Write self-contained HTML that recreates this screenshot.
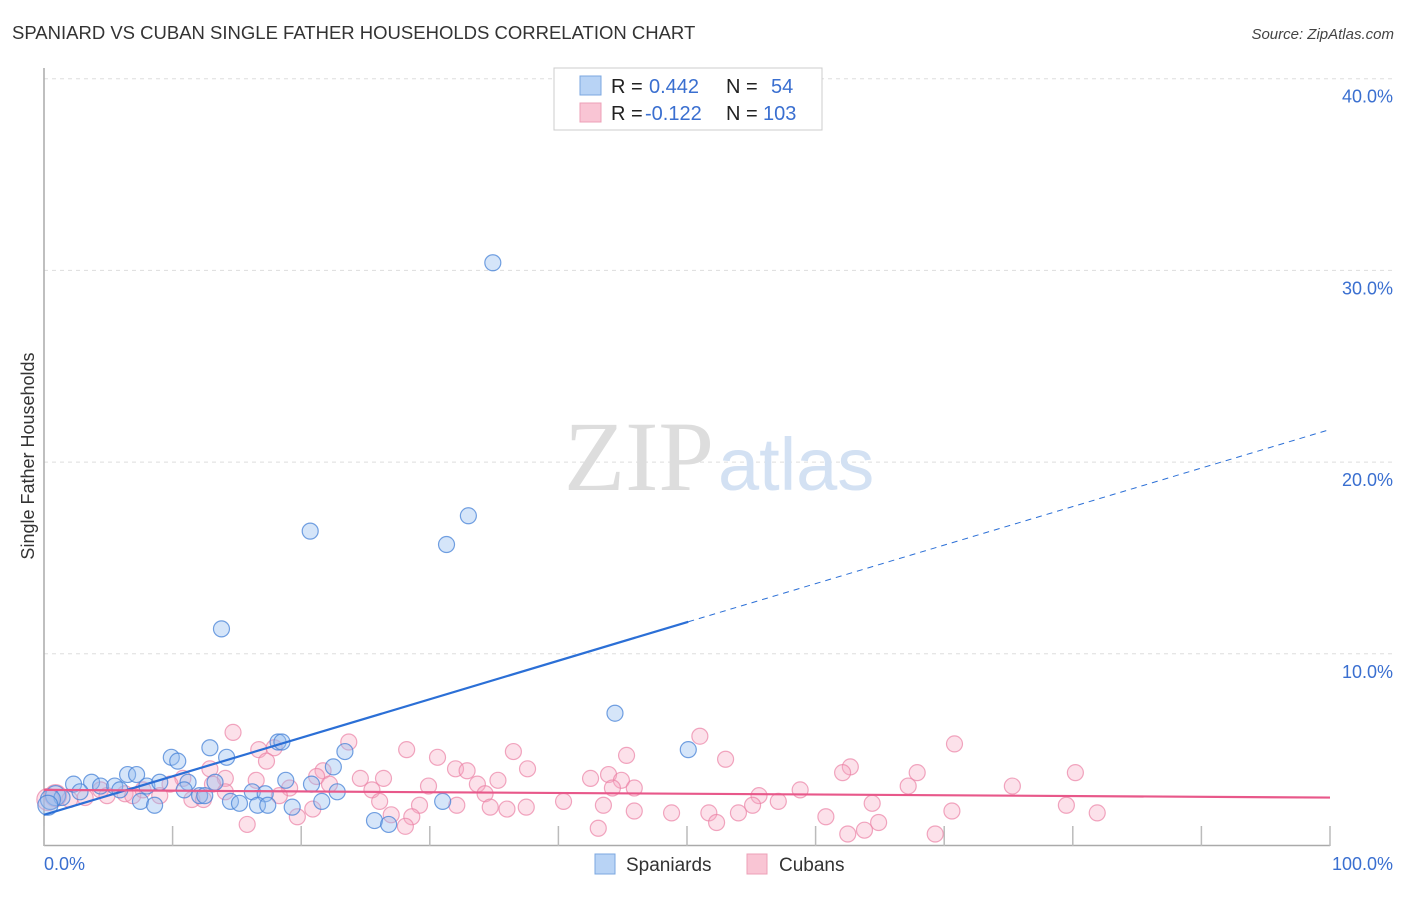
<!DOCTYPE html>
<html><head><meta charset="utf-8">
<style>
body{margin:0;background:#fff;font-family:"Liberation Sans",sans-serif;}
</style></head>
<body>
<svg id="chart" width="1406" height="892" viewBox="0 0 1406 892" style="font-family:'Liberation Sans',sans-serif">
<text x="12" y="39" font-size="18.5" fill="#333">SPANIARD VS CUBAN SINGLE FATHER HOUSEHOLDS CORRELATION CHART</text>
<text x="1394" y="39" font-size="15" fill="#444" font-style="italic" text-anchor="end">Source: ZipAtlas.com</text>
<g id="grid"></g>
<text x="714" y="490" font-size="100" fill="#ddd" text-anchor="end" style="font-family:'Liberation Serif',serif">ZIP</text>
<text x="718" y="490" font-size="74" fill="#d3e1f3">atlas</text>
<text transform="translate(34,456) rotate(-90)" font-size="18" fill="#333" text-anchor="middle">Single Father Households</text>
<g id="ylabels"></g>
<g id="xaxis"></g>
<g id="pts"></g>
<g id="lines"></g>
<g>
<rect x="554" y="68" width="268" height="62" fill="#fff" stroke="#ccc"/>
<rect x="580" y="76" width="21" height="19" fill="#b8d3f5" stroke="#7ba7e0"/>
<rect x="580" y="103" width="21" height="19" fill="#f9c5d4" stroke="#eda0b7"/>
<text x="611" y="93" font-size="20" fill="#222">R =</text>
<text x="649" y="93" font-size="20" fill="#3a6fd0">0.442</text>
<text x="726" y="93" font-size="20" fill="#222">N =</text>
<text x="771" y="93" font-size="20" fill="#3a6fd0">54</text>
<text x="611" y="120" font-size="20" fill="#222">R =</text>
<text x="645" y="120" font-size="20" fill="#3a6fd0">-0.122</text>
<text x="726" y="120" font-size="20" fill="#222">N =</text>
<text x="763" y="120" font-size="20" fill="#3a6fd0">103</text>
</g>
<g>
<rect x="595" y="854" width="20" height="20" fill="#b8d3f5" stroke="#7ba7e0"/>
<text x="626" y="871" font-size="19" fill="#333">Spaniards</text>
<rect x="747" y="854" width="20" height="20" fill="#f9c5d4" stroke="#eda0b7"/>
<text x="779" y="871" font-size="19" fill="#333">Cubans</text>
</g>
</svg>
<script>
const yTicks=[10,20,30,40];
const yTickLabels=["10.0%","20.0%","30.0%","40.0%"];
const xTicks=[0,10,20,30,40,50,60,70,80,90,100];
const blueX=[34.9,20.7,33.0,31.3,13.8,44.4,50.1,12.9,9.9,10.4,14.2,18.2,18.5,23.4,22.5,6.5,7.2,2.3,3.7,4.4,5.5,8.0,9.0,11.2,13.3,18.8,20.8,22.8,16.2,17.2,12.1,10.9,0.9,1.4,2.8,7.5,8.6,14.5,15.2,16.6,17.4,19.3,21.6,31.0,25.7,26.8,0.5,0.3,5.9,12.5];
const blueY=[30.4,16.4,17.2,15.7,11.3,6.9,5.0,5.1,4.6,4.4,4.6,5.4,5.4,4.9,4.1,3.7,3.7,3.2,3.3,3.1,3.1,3.1,3.3,3.3,3.3,3.4,3.2,2.8,2.8,2.7,2.6,2.9,2.6,2.5,2.8,2.3,2.1,2.3,2.2,2.1,2.1,2.0,2.3,2.3,1.3,1.1,2.4,2.1,2.9,2.6];
const pinkX=[14.7,23.7,51.0,70.8,16.7,17.9,28.2,30.6,36.5,45.3,53.0,17.3,32.0,32.9,37.6,62.7,62.1,67.9,80.2,12.9,21.7,24.6,26.4,35.3,42.5,43.9,44.9,14.1,16.5,10.8,21.2,29.9,33.7,45.9,44.2,58.8,75.3,67.2,13.1,19.1,22.2,25.5,34.3,55.6,57.1,40.4,26.1,29.2,32.1,34.7,36.0,37.5,43.5,45.9,48.8,51.7,54.0,55.1,64.4,70.6,79.5,81.9,27.0,28.6,19.7,20.9,60.8,64.9,52.3,15.8,28.1,43.1,62.5,63.8,69.3,0.9,0.3,2.0,3.2,4.4,4.9,6.3,6.9,7.7,9.0,9.8,11.5,12.4,14.1,18.3];
const pinkY=[5.9,5.4,5.7,5.3,5.0,5.1,5.0,4.6,4.9,4.7,4.5,4.4,4.0,3.9,4.0,4.1,3.8,3.8,3.8,4.0,3.9,3.5,3.5,3.4,3.5,3.7,3.4,3.5,3.4,3.5,3.6,3.1,3.2,3.0,3.0,2.9,3.1,3.1,3.2,3.0,3.2,2.9,2.7,2.6,2.3,2.3,2.3,2.1,2.1,2.0,1.9,2.0,2.1,1.8,1.7,1.7,1.7,2.1,2.2,1.8,2.1,1.7,1.6,1.5,1.5,1.9,1.5,1.2,1.2,1.1,1.0,0.9,0.6,0.8,0.6,2.6,2.4,2.4,2.5,2.9,2.6,2.7,2.6,2.9,2.6,3.2,2.4,2.4,2.8,2.6];
const blueTrend=[1.6,21.7];
const pinkTrend=[2.9,2.5];
const NS="http://www.w3.org/2000/svg";
const xs=v=>44+v*12.86, ys=v=>845.5-v*19.17;
function mk(t,a,p){const e=document.createElementNS(NS,t);for(const k in a)e.setAttribute(k,a[k]);p.appendChild(e);return e;}
const grid=document.getElementById('grid'),yl=document.getElementById('ylabels'),xa=document.getElementById('xaxis');
yTicks.forEach((t,i)=>{
 const l=mk('line',{x1:44,x2:1394,y1:ys(t),y2:ys(t),stroke:'#ddd','stroke-dasharray':'4,4'},grid);
 
 
 const tx=mk('text',{x:1393,y:ys(t)+24,'font-size':18,fill:'#3a6fd0','text-anchor':'end'},yl);
 tx.textContent=yTickLabels[i];
 
 
});
mk('line',{x1:44,x2:44,y1:68,y2:846,stroke:'#aaa','stroke-width':1.5},xa);
mk('line',{x1:44,x2:1330,y1:845.5,y2:845.5,stroke:'#aaa','stroke-width':1.5},xa);
xTicks.forEach(t=>{const l=mk('line',{x1:xs(t),x2:xs(t),y1:826,y2:846,stroke:'#bbb','stroke-width':1.5},xa);
 
 });
let t0=mk('text',{x:44,y:870,'font-size':18,fill:'#3a6fd0'},xa);t0.textContent='0.0%';


let t1=mk('text',{x:1393,y:870,'font-size':18,fill:'#3a6fd0','text-anchor':'end'},xa);t1.textContent='100.0%';


const pts=document.getElementById('pts');
pinkX.forEach((x,i)=>{const c=mk('circle',{cx:xs(x),cy:ys(pinkY[i]),r:(x<1?11:8),fill:'rgba(247,170,195,0.35)',stroke:'rgba(235,130,165,0.7)','stroke-width':1.2},pts);
 
 });
blueX.forEach((x,i)=>{const c=mk('circle',{cx:xs(x),cy:ys(blueY[i]),r:(x<1?10:8),fill:'rgba(150,190,240,0.4)',stroke:'rgba(70,130,215,0.75)','stroke-width':1.2},pts);
 
 });
const ln=document.getElementById('lines');
const bAt=x=>blueTrend[0]+(blueTrend[1]-blueTrend[0])*x/100;
let b1=mk('line',{x1:xs(0),y1:ys(bAt(0)),x2:xs(50.1),y2:ys(bAt(50.1)),stroke:'#2b6fd6','stroke-width':2.2},ln);


let b2=mk('line',{x1:xs(50.1),y1:ys(bAt(50.1)),x2:xs(100),y2:ys(bAt(100)),stroke:'#2b6fd6','stroke-width':1,'stroke-dasharray':'6,5'},ln);


let p1=mk('line',{x1:xs(0),y1:ys(pinkTrend[0]),x2:xs(100),y2:ys(pinkTrend[1]),stroke:'#e8588a','stroke-width':2.2},ln);


</script>
</body></html>
